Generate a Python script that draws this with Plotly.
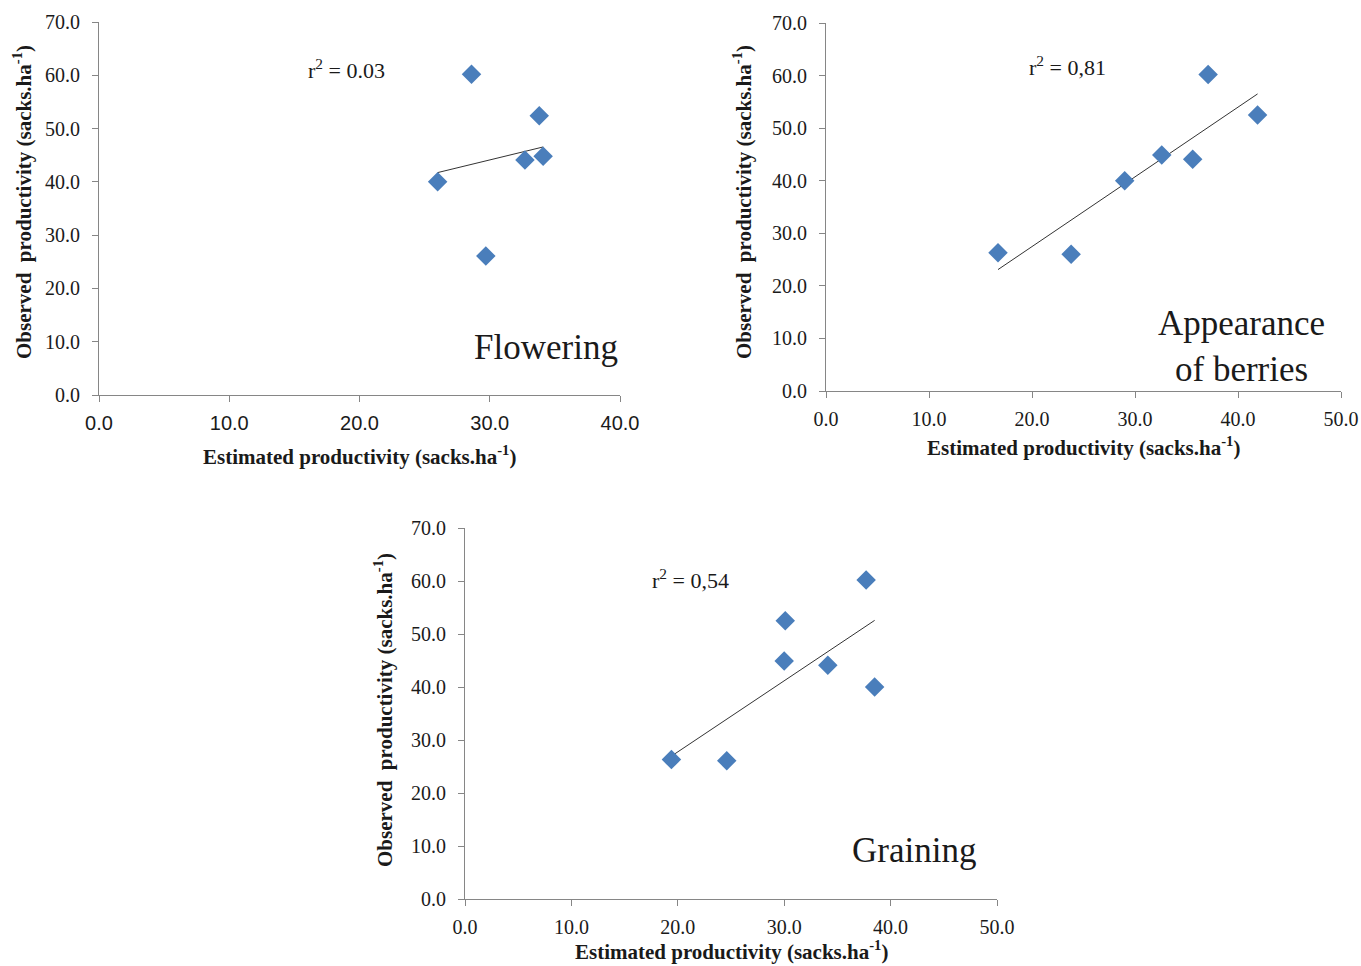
import numpy as np
import plotly.graph_objects as go

# ---- data ----
flow_est = [28.6, 33.8, 32.7, 34.1, 26.0, 29.7]
flow_obs = [60.2, 52.4, 44.1, 44.8, 40.0, 26.1]

berr_est = [16.7, 23.8, 29.0, 32.6, 35.6, 37.1, 41.9]
berr_obs = [26.3, 26.0, 40.0, 44.9, 44.1, 60.2, 52.5]

grain_est = [19.4, 24.6, 30.0, 30.1, 34.1, 37.7, 38.5]
grain_obs = [26.3, 26.1, 44.9, 52.5, 44.1, 60.2, 40.0]

panel_names = ["Flowering", "Appearance<br>of berries", "Graining"]
r2_labels = ["r<sup>2</sup> = 0.03", "r<sup>2</sup> = 0,81", "r<sup>2</sup> = 0,54"]
y_ticks = [0, 10, 20, 30, 40, 50, 60, 70]
x_ticks_a = [0, 10, 20, 30, 40]
x_ticks_b = [0, 10, 20, 30, 40, 50]

W, H = 1361, 966
SERIF = "Liberation Serif, Times New Roman, serif"
SANS = "Liberation Sans, Arial, sans-serif"
MARK = "#4a7ebb"
AXC = "#868686"
TXT = "#1a1a1a"

fig = go.Figure()

panels = [
    dict(est=flow_est, obs=flow_obs, xa="x", ya="y", xr=[0, 40], xt=x_ticks_a,
         xdom=[99, 620], ydom=[22, 395], xfont=SANS),
    dict(est=berr_est, obs=berr_obs, xa="x2", ya="y2", xr=[0, 50], xt=x_ticks_b,
         xdom=[826, 1341], ydom=[23, 391], xfont=SERIF),
    dict(est=grain_est, obs=grain_obs, xa="x3", ya="y3", xr=[0, 50], xt=x_ticks_b,
         xdom=[465, 997], ydom=[528, 899], xfont=SERIF),
]

for i, p in enumerate(panels):
    est = np.array(p["est"]); obs = np.array(p["obs"])
    slope, icpt = np.polyfit(est, obs, 1)
    lx = np.array([est.min(), est.max()])
    fig.add_trace(go.Scatter(x=lx, y=slope * lx + icpt, mode="lines",
                             line=dict(color="#333333", width=1),
                             xaxis=p["xa"], yaxis=p["ya"], showlegend=False, hoverinfo="skip"))
    fig.add_trace(go.Scatter(x=est, y=obs, mode="markers",
                             marker=dict(symbol="diamond", size=15, color=MARK),
                             xaxis=p["xa"], yaxis=p["ya"], showlegend=False))

layout = dict(width=W, height=H, margin=dict(l=0, r=0, t=0, b=0, autoexpand=False),
              template="none",
              paper_bgcolor="white", plot_bgcolor="white", showlegend=False)

for i, p in enumerate(panels):
    sfx = "" if i == 0 else str(i + 1)
    layout["xaxis" + sfx] = dict(
        domain=[p["xdom"][0] / W, p["xdom"][1] / W], range=p["xr"],
        tickvals=p["xt"], ticktext=[f"{v:.1f}" for v in p["xt"]],
        showline=True, linecolor=AXC, linewidth=1, ticks="outside", ticklen=6,
        tickcolor=AXC, showgrid=False, zeroline=False, anchor="y" + sfx,
        automargin=False,
        tickfont=dict(family=p["xfont"], size=20, color=TXT), ticklabelstandoff=4)
    layout["yaxis" + sfx] = dict(
        domain=[1 - p["ydom"][1] / H, 1 - p["ydom"][0] / H], range=[0, 70],
        tickvals=y_ticks, ticktext=[f"{v:.1f}" for v in y_ticks],
        showline=True, linecolor=AXC, linewidth=1, ticks="outside", ticklen=6,
        tickcolor=AXC, showgrid=False, zeroline=False, anchor="x" + sfx,
        automargin=False,
        tickfont=dict(family=SERIF, size=20, color=TXT), ticklabelstandoff=8)

fig.update_layout(**layout)

xtitle = "Estimated productivity (sacks.ha<sup>-1</sup>)"
ytitle = "Observed\u00a0 productivity (sacks.ha<sup>-1</sup>)"
title_font = dict(family=SERIF, size=21, color=TXT)

# axis titles (paper coords)
xt_pos = [(359, 455), (1083, 447), (731, 950)]
yt_pos = [(22, 202), (742, 202), (383, 710)]
for (x, y) in xt_pos:
    fig.add_annotation(x=x / W, y=1 - y / H, xref="paper", yref="paper",
                       text="<b>" + xtitle + "</b>", showarrow=False, font=title_font,
                       xanchor="center", yanchor="middle")
for (x, y) in yt_pos:
    fig.add_annotation(x=x / W, y=1 - y / H, xref="paper", yref="paper",
                       text="<b>" + ytitle + "</b>", showarrow=False, font=title_font,
                       textangle=-90, xanchor="center", yanchor="middle")

# r^2 labels and stage names (data coords of each panel)
r2_pos = [(19.0, 61.2), (23.4, 61.8), (21.2, 60.4)]
name_pos = [(34.3, 9.0), (40.3, 8.4), (42.2, 9.2)]
for i, p in enumerate(panels):
    fig.add_annotation(x=r2_pos[i][0], y=r2_pos[i][1], xref=p["xa"], yref=p["ya"],
                       text=r2_labels[i], showarrow=False,
                       font=dict(family=SERIF, size=22, color=TXT))
    fig.add_annotation(x=name_pos[i][0], y=name_pos[i][1], xref=p["xa"], yref=p["ya"],
                       text=panel_names[i], showarrow=False,
                       font=dict(family=SERIF, size=35, color=TXT))

fig.write_html("out.html", config={"displayModeBar": False},
               post_script="document.body.style.margin='0';document.body.style.overflow='hidden';")
